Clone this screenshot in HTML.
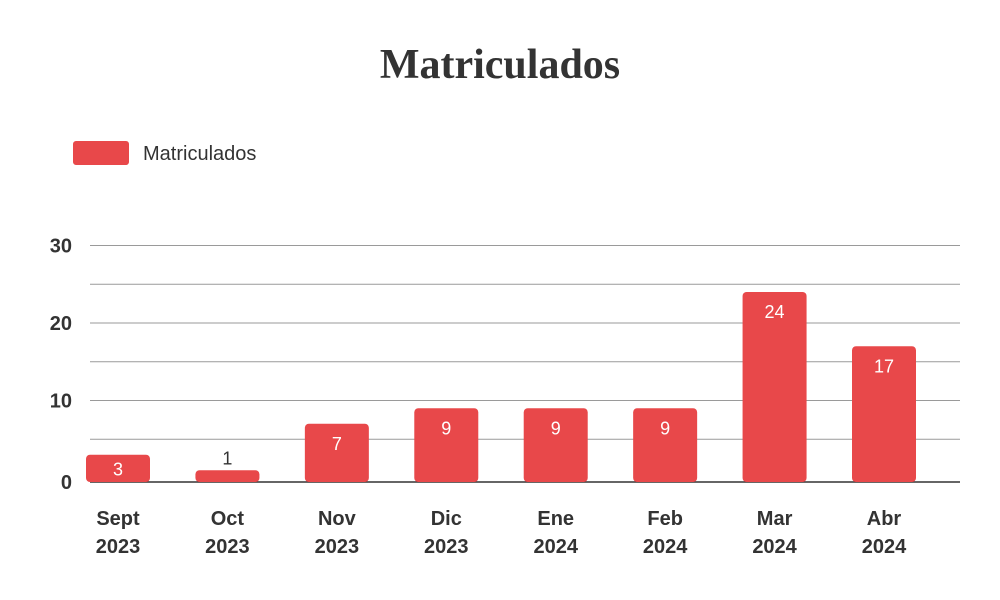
<!DOCTYPE html>
<html><head><meta charset="utf-8"><style>
body{margin:0;background:#fff;}
svg{display:block;}
</style></head><body>
<svg id="chart" width="1000" height="600" xmlns="http://www.w3.org/2000/svg">
<text x="500" y="78" text-anchor="middle" font-family="'Liberation Serif',serif" font-weight="bold" font-size="42" fill="#333">Matriculados</text>
<g>
<rect x="73" y="141" width="56" height="24" rx="3" fill="#e8484a"/>
<text x="143" y="160" font-family="'Liberation Sans',sans-serif" font-size="20" fill="#333">Matriculados</text>
</g>
<g id="grid"></g><g id="bars"></g><g id="xlabels"></g>
</svg>
<script>
const categories=["Sept","Oct","Nov","Dic","Ene","Feb","Mar","Abr"];
const years=["2023","2023","2023","2023","2024","2024","2024","2024"];
const values=[3,1,7,9,9,9,24,17];
const yTicks=[0,10,20,30];
const minorTicks=[5,15,25];
const NS="http://www.w3.org/2000/svg";
const base=482;
function y(v){return Math.min(base,478-7.75*v);}
const xStart=118,xEnd=884;
function x(i){return xStart+(xEnd-xStart)*i/(categories.length-1);}
function mk(tag,attrs,parent,text){const e=document.createElementNS(NS,tag);for(const k in attrs)e.setAttribute(k,attrs[k]);if(text!==undefined)e.textContent=text;parent.appendChild(e);return e;}
const grid=document.getElementById('grid'),bars=document.getElementById('bars'),xl=document.getElementById('xlabels');
minorTicks.concat(yTicks).forEach(t=>{
  const yy=t===0?base:y(t);
  const l=mk('line',{x1:90,x2:960,y1:yy,y2:yy,stroke:t===0?'#333':'#9a9a9a','stroke-width':t===0?1.5:1},grid);
  
  
});
yTicks.forEach(t=>{
  const yy=t===0?base:y(t);
  const tx=mk('text',{x:72,y:yy+7,'text-anchor':'end','font-family':"'Liberation Sans',sans-serif",'font-size':20,'font-weight':'bold',fill:'#333'},grid,String(t));
  
  
});
values.forEach((v,i)=>{
  const cx=x(i),w=64,top=y(v);
  const r=mk('rect',{x:cx-w/2,y:top,width:w,height:base-top,rx:4,fill:'#e8484a'},bars);
  
  
  const inside=(base-top)>18;
  const t=mk('text',{x:cx,y:inside?top+Math.min(26,(base-top)/2+7):top-6,'text-anchor':'middle','font-family':"'Liberation Sans',sans-serif",'font-size':18,fill:inside?'#fff':'#333'},bars,String(v));
  
  
  const a=mk('text',{x:cx,y:525,'text-anchor':'middle','font-family':"'Liberation Sans',sans-serif",'font-size':20,'font-weight':'bold',fill:'#333'},xl,categories[i]);
  
  
  const b=mk('text',{x:cx,y:553,'text-anchor':'middle','font-family':"'Liberation Sans',sans-serif",'font-size':20,'font-weight':'bold',fill:'#333'},xl,years[i]);
  
  
});
</script>
</body></html>
